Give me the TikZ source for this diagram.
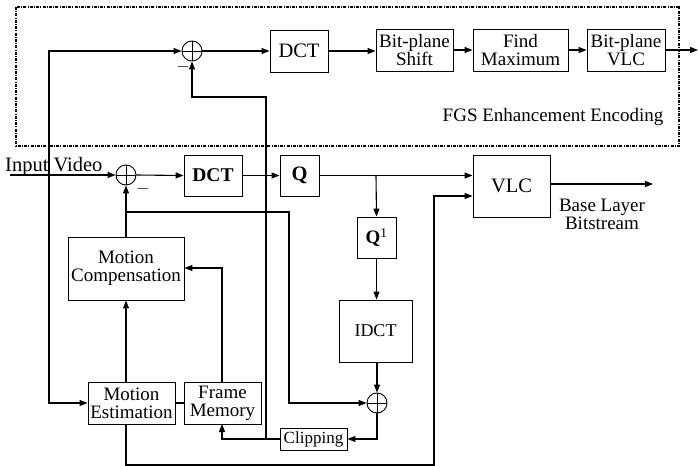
\documentclass[tikz,border=0pt]{standalone}
\usepackage{fontspec}
\setmainfont{Liberation Serif}
\usetikzlibrary{arrows.meta}
\begin{document}
\begin{tikzpicture}[x=1pt,y=-1pt,
  every node/.style={font=\fontsize{19}{18}\selectfont},
  big/.style={font=\fontsize{20.5}{18}\selectfont},
  blk/.style={draw,line width=0.9pt,inner sep=0pt,align=center},
  sumc/.style={draw,circle,line width=0.9pt,minimum size=20pt,inner sep=0pt},
  conn/.style={line width=1.1pt},
  arr/.style={conn,-{Triangle[length=8pt,width=6pt]}},
  encl/.style={line width=1.4pt,dash pattern=on 3pt off 1.2pt on 1pt off 1.2pt}]
\useasboundingbox (0,0) rectangle (699,466);
% enclosure
\draw[encl] (16,7) rectangle (679,146);
\node (fgs) at (553,117) {FGS Enhancement Encoding};
% top row
\node[sumc] (usum) at (192,51) {};
\draw[line width=0.7pt] (usum.north)--(usum.south) (usum.west)--(usum.east);
\node[blk,big,minimum width=58pt,minimum height=42pt] (dcta) at (299,51) {DCT};
\node[blk,minimum width=77pt,minimum height=42pt] (bps) at (414.5,50) {Bit-plane\\Shift};
\node[blk,minimum width=95pt,minimum height=42pt] (fmax) at (520.5,50) {Find\\Maximum};
\node[blk,minimum width=78pt,minimum height=42pt] (bpvlc) at (626,50) {Bit-plane\\VLC};
\coordinate (outa) at (698,50);
\node (minusa) at (183,67) {$-$};
% base layer
\node[big,anchor=base west,inner sep=0pt] (inlbl) at (5,171) {Input Video};
\coordinate (instart) at (10,175);
\coordinate (injn) at (49,175);
\node[sumc] (lsum) at (126,175) {};
\draw[line width=0.7pt] (lsum.north)--(lsum.south) (lsum.west)--(lsum.east);
\node (minusb) at (143,189) {$-$};
\node[blk,minimum width=58pt,minimum height=41pt,font=\fontsize{19.5}{18}\selectfont\bfseries] (dctb) at (213,175.5) {DCT};
\node[blk,minimum width=39pt,minimum height=41pt,font=\fontsize{20.5}{18}\selectfont\bfseries] (q) at (299.5,175.5) {Q};
\node[blk,big,minimum width=77pt,minimum height=62pt] (vlc) at (511.5,186) {VLC};
\coordinate (outb) at (653,184);
\node[align=center] (bll) at (602,214) {Base Layer\\Bitstream};
\node[blk,minimum width=39pt,minimum height=41pt] (qinv) at (376.5,237.5) {\textbf{Q}\textsuperscript{1}};
\node[blk,font=\fontsize{18}{18}\selectfont,minimum width=73pt,minimum height=62pt] (idct) at (375.5,331) {IDCT};
\node[sumc] (rsum) at (377,403) {};
\draw[line width=0.7pt] (rsum.north)--(rsum.south) (rsum.west)--(rsum.east);
\node[blk,minimum width=67pt,minimum height=22pt,font=\fontsize{17}{16}\selectfont] (clip) at (313.5,439) {Clipping};
\node[blk,minimum width=116pt,minimum height=63pt] (mc) at (126,268.5) {Motion\\Compensation};
\node[blk,minimum width=87pt,minimum height=42pt] (me) at (131.5,403) {Motion\\Estimation};
\node[blk,minimum width=77pt,minimum height=42pt] (fm) at (222.5,403) {Frame\\Memory};
% connectors
\draw[arr] (instart) -- (lsum.west);
\draw[arr] (injn) -- (49,51) -- (usum.west);
\draw[arr] (injn) -- (49,403) -- (me.west);
\draw[arr] (usum.east) -- (dcta.west);
\draw[arr] (dcta.east) -- (dcta.east -| bps.west);
\draw[arr] (bps.east) -- (fmax.west);
\draw[arr] (fmax.east) -- (bpvlc.west);
\draw[arr] (bpvlc.east) -- (outa);
\draw[arr] (lsum.east) -- (dctb.west);
\draw[arr] (dctb.east) -- (q.west);
\draw[arr] (q.east) -- (q.east -| vlc.west);
\draw[arr] (376,175.5) -- (qinv.north);
\draw[arr] (qinv.south) -- (qinv.south |- idct.north);
\draw[arr] (idct.south -| rsum) -- (rsum.north);
\draw[arr] (mc.north) -- (lsum.south);
\draw[arr] (126,212) -- (289,212) -- (289,403) -- (rsum.west);
\draw[arr] (rsum.south) -- (377,439) -- (clip.east);
\draw[arr] (clip.west) -- (222,439) -- (222,424);
\draw[arr] (266,439) -- (266,97) -- (192,97) -- (usum.south);
\draw[arr] (222,382) -- (222,268) -- (mc.east |- 0,268);
\draw[conn] (me.east) -- (fm.west);
\draw[arr] (126,382) -- (mc.south);
\draw[arr] (126,424) -- (126,465) -- (434,465) -- (434,196) -- (vlc.west |- 0,196);
\draw[arr] (vlc.east |- 0,184) -- (outb);
\end{tikzpicture}
\end{document}
